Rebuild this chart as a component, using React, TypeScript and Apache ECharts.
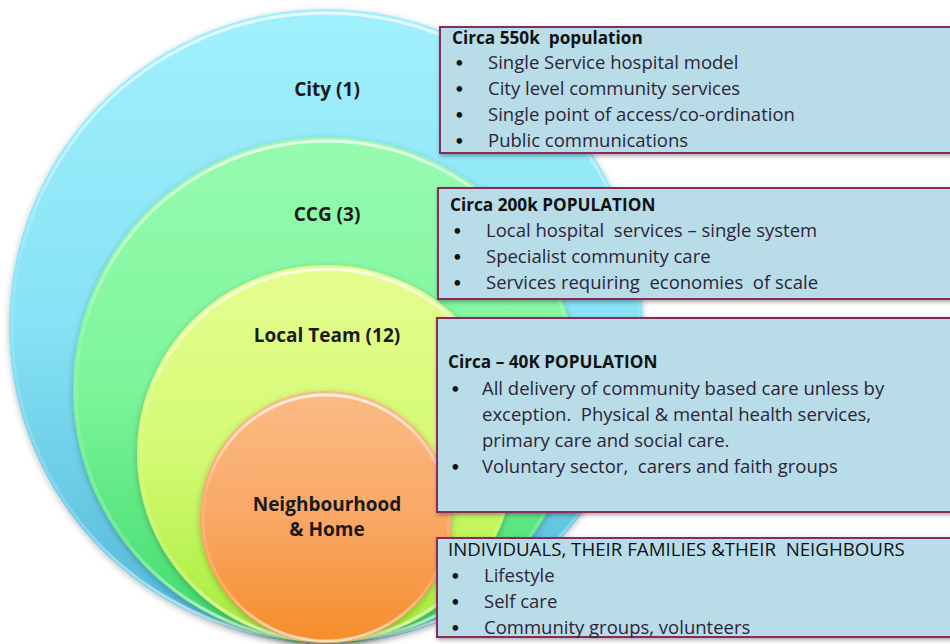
import React, { useEffect, useRef } from "react";
import * as echarts from "echarts";

// ---- data ----
const levelLabels = ["City (1)", "CCG (3)", "Local Team (12)", "Neighbourhood\n& Home"];
const boxTitles = [
  "Circa 550k  population",
  "Circa 200k POPULATION",
  "Circa \u2013 40K POPULATION",
  "INDIVIDUALS, THEIR FAMILIES &THEIR  NEIGHBOURS",
];
const cityBullets = [
  "Single Service hospital model",
  "City level community services",
  "Single point of access/co-ordination",
  "Public communications",
];
const ccgBullets = [
  "Local hospital  services \u2013 single system",
  "Specialist community care",
  "Services requiring  economies  of scale",
];
const localBullets = [
  "All delivery of community based care unless by\nexception.  Physical & mental health services,\nprimary care and social care.",
  "Voluntary sector,  carers and faith groups",
];
const homeBullets = ["Lifestyle", "Self care", "Community groups, volunteers"];
const boxBullets = [cityBullets, ccgBullets, localBullets, homeBullets];

// ---- layout / style ----
const CX = 326;
const BOTTOM = 643;
const radii = [317, 253, 189, 126];
const circleColors = [
  ["#a2f0fd", "#86e2f5", "#4fb6d8"],
  ["#98fbb0", "#7cf59a", "#3ed96a"],
  ["#e6fd90", "#d4fa74", "#a4ec38"],
  ["#fbbb85", "#f9a866", "#f68d2a"],
];
const labelY = [89, 214, 335, 516];
const boxRects = [
  { x: 440, y: 27, h: 126 },
  { x: 438, y: 188, h: 111 },
  { x: 437, y: 318, h: 194 },
  { x: 437, y: 538, h: 99 },
];
const titleY = [37, 204, 361, 548];
const titleX = [452, 450, 448, 448];
const bulletY0 = [62, 230, 388, 575];
const dotX = [455, 453, 451, 451];
const textX = [488, 486, 482, 484];
const LINE = 26;
const FONT = "'Open Sans'";

export default function App() {
  const ref = useRef<HTMLDivElement>(null);
  useEffect(() => {
    document.body.style.margin = "0";
    const chart = echarts.init(ref.current!, null, { renderer: "svg" });
    const elements: any[] = [];

    radii.forEach((r, i) => {
      const cy = BOTTOM - r;
      const c = circleColors[i];
      elements.push({
        type: "circle",
        shape: { cx: CX, cy, r },
        style: {
          fill: new echarts.graphic.LinearGradient(0, 0, 0, 1, [
            { offset: 0, color: c[0] },
            { offset: 0.5, color: c[1] },
            { offset: 1, color: c[2] },
          ]),
          shadowBlur: 6,
          shadowOffsetY: 2,
          shadowColor: "rgba(0,0,0,0.25)",
        },
      });
      elements.push({
        type: "circle",
        shape: { cx: CX, cy: cy + 1, r: r - 3 },
        style: {
          fill: "none",
          stroke: new echarts.graphic.LinearGradient(0, 0, 0, 1, [
            { offset: 0, color: "rgba(255,255,255,0.75)" },
            { offset: 0.4, color: "rgba(255,255,255,0.1)" },
            { offset: 0.8, color: "rgba(255,255,255,0.2)" },
            { offset: 1, color: "rgba(255,255,255,0.7)" },
          ]),
          lineWidth: 3,
        },
      });
      elements.push({
        type: "text",
        x: CX + 1,
        y: labelY[i],
        style: {
          text: levelLabels[i],
          fill: "#1a1a1a",
          font: `bold 19px ${FONT}`,
          textAlign: "center",
          textVerticalAlign: "middle",
          lineHeight: 25,
        },
      });
    });

    boxRects.forEach((b, i) => {
      elements.push({
        type: "rect",
        shape: { x: b.x, y: b.y, width: 960 - b.x, height: b.h },
        style: {
          fill: "#b8dde8",
          stroke: "#8a2a5c",
          lineWidth: 2,
          shadowBlur: 4,
          shadowOffsetY: 2,
          shadowOffsetX: 1,
          shadowColor: "rgba(0,0,0,0.35)",
        },
      });
      elements.push({
        type: "text",
        x: titleX[i],
        y: titleY[i],
        style: {
          text: boxTitles[i],
          fill: "#111",
          font: i === 3 ? `18.7px ${FONT}` : `bold 17.2px ${FONT}`,
          textAlign: "left",
          textVerticalAlign: "middle",
        },
      });
      let y = bulletY0[i];
      boxBullets[i].forEach((t) => {
        const lines = t.split("\n").length;
        elements.push({
          type: "text",
          x: dotX[i],
          y,
          style: { text: "\u2022", fill: "#111", font: `15px Lato`, textAlign: "left", textVerticalAlign: "middle" },
        });
        elements.push({
          type: "text",
          x: textX[i],
          y: y - LINE / 2 - 1,
          style: {
            text: t,
            fill: "#2e2438",
            font: `18.5px ${FONT}`,
            textAlign: "left",
            textVerticalAlign: "top",
            lineHeight: LINE,
          },
        });
        y += LINE * lines;
      });
    });

    chart.setOption({ animation: false, graphic: { elements } });
    return () => chart.dispose();
  }, []);
  return <div ref={ref} style={{ width: 950, height: 644 }} />;
}
